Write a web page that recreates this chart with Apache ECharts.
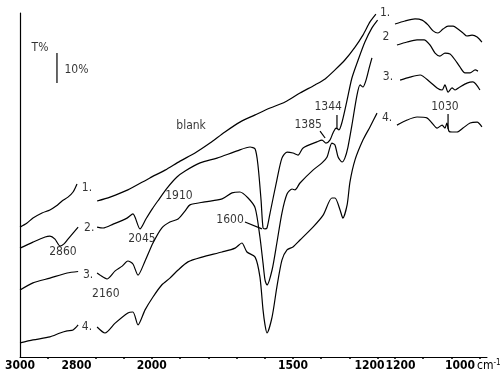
<!DOCTYPE html>
<html><head><meta charset="utf-8">
<script src="https://cdn.jsdelivr.net/npm/echarts@6/dist/echarts.min.js"></script>
<style>html,body{margin:0;padding:0;background:#fff}#c{width:501px;height:374px}</style>
</head><body><div id="c"></div>
<script>
// wavenumber (cm-1), transmittance T% (arbitrary offset; 10 units = scale bar)
// Segment A: 3000-2800
const A1 = [[3000,43.3],[2975,44.7],[2954,46.3],[2922,48],[2894,49],[2872,50.3],[2851,52],[2830,53.3],[2812,55],[2798,57.7]];
const A2 = [[3000,36.3],[2954,38.3],[2911,40],[2894,40.3],[2876,39.3],[2858,37],[2844,37.7],[2830,39.3],[2812,41.3],[2794,43.3]];
const A3 = [[3000,22.3],[2954,24.7],[2894,26.3],[2833,28],[2794,28.5]];
const A4 = [[3000,4.7],[2954,5.7],[2894,6.7],[2858,8],[2833,8.7],[2812,9],[2794,10.7]];
// Segment B: 2200-1200
const B1 = [[2194,52],[2148,53.3],[2085,55.7],[2007,59.7],[1953,62.3],[1900,65.3],[1847,68],[1794,71.3],[1741,75],[1688,78.3],[1634,80.7],[1581,83],[1528,85],[1475,88],[1422,90.7],[1386,92.7],[1351,95.7],[1316,99],[1280,103.3],[1252,107.3],[1227,111.7],[1206,114.3]];
const B2 = [[2194,43.3],[2173,43],[2137,44.3],[2088,46.3],[2067,47.7],[2042,42.7],[2021,46],[1999,49.3],[1979,52],[1946,56.3],[1911,60],[1882,62],[1829,64.7],[1769,66.3],[1698,68.7],[1652,70],[1634,69.3],[1624,64],[1613,52.3],[1606,43],[1599,42.7],[1592,43],[1581,48],[1557,59],[1539,66.3],[1521,68.3],[1500,68],[1482,67.3],[1464,69.7],[1415,71.7],[1397,72.3],[1383,71.3],[1369,72.3],[1358,74.7],[1347,76.3],[1337,75.7],[1326,78.3],[1308,85.7],[1291,93],[1269,99],[1245,105],[1220,109.7],[1200,112.3]];
const B3 = [[2194,28],[2184,27.3],[2159,26],[2130,28.7],[2105,30.3],[2085,32],[2067,31],[2049,27.3],[2024,32],[1996,38],[1965,43],[1936,45],[1907,46],[1882,48.7],[1865,50.7],[1812,51.7],[1751,52.7],[1716,54.7],[1688,55],[1659,53],[1634,49.7],[1617,40],[1606,31.3],[1599,25.7],[1592,24],[1574,29],[1557,38],[1539,48],[1521,54.3],[1503,56],[1493,55.7],[1475,58],[1429,62.3],[1397,64.7],[1379,66.7],[1362,71.3],[1351,70.7],[1340,66.7],[1326,65],[1316,66.3],[1305,70],[1291,77.3],[1273,87.3],[1262,90.7],[1252,90],[1241,92.3],[1230,96.3],[1220,99.7]];
const B4 = [[2194,10],[2166,8],[2130,11.3],[2085,14.7],[2067,15],[2049,10.7],[2024,15.7],[1996,20],[1965,24],[1936,26.3],[1907,29],[1872,31.7],[1822,33.3],[1751,35],[1705,36.3],[1681,38],[1663,35],[1634,33.3],[1617,26.7],[1606,15.7],[1599,10.7],[1592,8],[1574,13.3],[1557,23.3],[1539,32.3],[1521,35.7],[1500,36.7],[1475,39],[1429,43.3],[1393,47.3],[1362,53],[1351,53],[1333,49],[1323,46.3],[1308,50.7],[1298,58.3],[1280,65.7],[1252,72.3],[1227,76.7],[1202,81.3]];
// Segment C: 1200-900
const C1 = [[1200,111],[1165,112],[1129,112.7],[1104,112.3],[1083,110.7],[1065,108.7],[1048,108],[1030,109.3],[1012,110.3],[994,110.3],[977,109.3],[959,108],[945,107],[927,107.3],[909,106.7],[892,105]];
const C2 = [[1193,104],[1157,105],[1122,105.7],[1097,105.7],[1076,104],[1058,101.3],[1041,100.3],[1023,101.3],[1005,101],[987,99],[970,96.7],[952,94.7],[934,94.7],[916,95.7],[906,95.3]];
const C3 = [[1182,92.3],[1147,93.3],[1111,94],[1076,91.7],[1051,89.7],[1033,89],[1023,90.7],[1012,88.3],[998,89.7],[987,89],[970,90],[945,91.3],[924,91.7],[899,89]];
const C4 = [[1193,77.3],[1157,79],[1122,80],[1087,79.7],[1069,78],[1051,76.3],[1033,77.3],[1023,76.3],[1016,78],[1009,75.3],[998,75],[980,75],[959,76.3],[934,78],[909,78.3],[892,76.7]];

// tick values / labels
const ticksA = [2900];
const labelsA = [3000, 2800];
const ticksB = [2200,2100,2000,1900,1800,1700,1600,1500,1400,1300,1200];
const labelsB = [2000, 1500, 1200];
const ticksC = [1200,1100,1000,900];
const labelsC = [1200, 1000];

// annotations [text, wavenumber, T]
const notesA = [['2860',2848,35],['T%',2929,103],['10%',2800,95.7]];
const notesB = [['1.',2230,56.3],['2.',2222,43],['3.',2226,27.3],['4.',2230,10],['2045',2035,39.3],['2160',2163,21],['1910',1904,53.7],['1600',1723,45.7],['1385',1446,77.3],['1344',1375,83.3],['blank',1861,77]];
const notesC = [['1.',1235,114.7],['2',1232,106.7],['3.',1225,93.3],['4.',1228,79.7],['1030',1023,83.3]];
const pointersA = [[[2869,101.3],[2869,91.3]]];
const pointersB = [[[1670,45],[1610,42.7]],[[1404,75.3],[1386,73]],[[1344,80.7],[1344,76]]];
const pointersC = [[[1012,81],[1012,76]]];

const FONT = "'DejaVu Sans Condensed','Liberation Sans Narrow','DejaVu Sans',sans-serif";
const TOP = 13, H = 344, K = 0.2822, YMAX = 114.67;

const grids = [
  {left:20, top:TOP, width:65, height:H, outerBoundsMode:'none'},
  {left:85, top:TOP, width:292.6, height:H, outerBoundsMode:'none'},
  {left:377.6, top:TOP, width:109.4, height:H, outerBoundsMode:'none'}
];
const ranges = [[3000-65/K, 3000],[1200, 1200+292.6/K],[1200-92/K, 1200+17.4/K]];
const tickSets = [ticksA, ticksB, ticksC];
const labelSets = [labelsA, labelsB, labelsC];
const shifts = [{}, {1200:[0,16,0,0]}, {1200:[0,0,0,11],1000:[0,0,0,17]}];

const xAxis = grids.map((g,i)=>({
  type:'value', gridIndex:i, inverse:true, min:ranges[i][0], max:ranges[i][1],
  position:'bottom',
  axisLine:{show:true, onZero:false, lineStyle:{color:'#000', width:1}},
  axisTick:{show:true, customValues:tickSets[i], length:2, lineStyle:{color:'#000', width:1.5}},
  splitLine:{show:false},
  axisLabel:{show:true, customValues:labelSets[i], margin:3, color:'#000',
    fontFamily:FONT, fontSize:12, fontWeight:'bold',
    formatter:(v)=> shifts[i][v] ? '{s'+v+'|'+v+'}' : String(v),
    rich:Object.fromEntries(Object.entries(shifts[i]).map(([k,p])=>['s'+k,{padding:p, fontFamily:FONT, fontSize:12, fontWeight:'bold', color:'#000'}]))
  }
}));
const yAxis = grids.map((g,i)=>({
  type:'value', gridIndex:i, min:0, max:YMAX, show:i===0,
  axisLine:{show:true, lineStyle:{color:'#000', width:1.2}},
  axisTick:{show:false}, axisLabel:{show:false}, splitLine:{show:false}
}));

const series = [];
function addLine(data, gi, smooth){
  series.push({type:'line', xAxisIndex:gi, yAxisIndex:gi, data, symbol:'none', smooth:smooth,
    lineStyle:{color:'#000', width:1.2}, clip:false, silent:true});
}
[[A1,A2,A3,A4],[B1,B2,B3,B4],[C1,C2,C3,C4]].forEach((set,gi)=>set.forEach(d=>addLine(d,gi,0.25)));
[pointersA,pointersB,pointersC].forEach((set,gi)=>set.forEach(d=>addLine(d,gi,false)));
[notesA,notesB,notesC].forEach((set,gi)=>{
  series.push({type:'scatter', xAxisIndex:gi, yAxisIndex:gi, symbolSize:0, clip:false, silent:true,
    data:set.map(n=>({name:n[0], value:[n[1],n[2]]})),
    label:{show:true, position:'inside', formatter:p=>p.name, color:'#000', fontFamily:FONT, fontSize:12}
  });
});

const chart = echarts.init(document.getElementById('c'), null, {renderer:'canvas'});
chart.setOption({
  animation:false,
  grid:grids, xAxis, yAxis, series,
  graphic:[{type:'text', left:477, top:359, style:{
    text:'cm{s|-1}', fill:'#000', fontFamily:FONT, fontSize:12,
    rich:{s:{fontSize:8, fontFamily:FONT, fill:'#000', verticalAlign:'top', padding:[0,0,6,0]}}
  }}]
});
</script></body></html>
